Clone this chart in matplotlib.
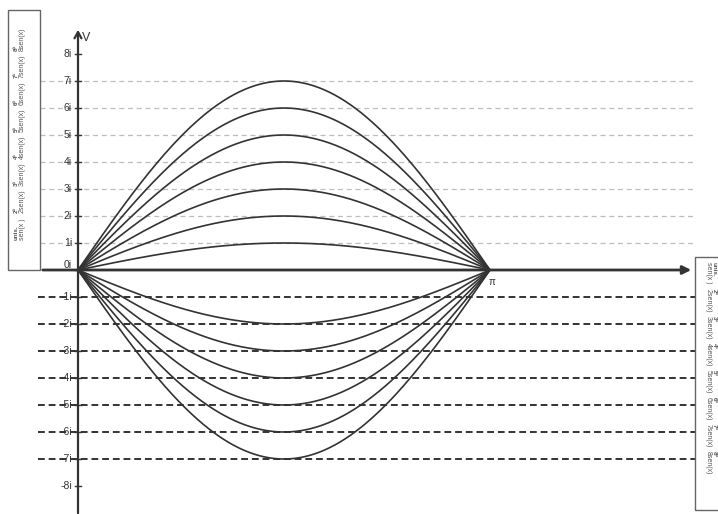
import numpy as np
import matplotlib
matplotlib.use("Agg")
import matplotlib.pyplot as plt
from matplotlib.patches import Rectangle

plt.rcParams['font.family'] = ['Liberation Sans', 'DejaVu Sans']

# data
upper_k = [1, 2, 3, 4, 5, 6, 7]
lower_k = [2, 3, 4, 5, 6, 7]
grid_up = [1, 2, 3, 4, 5, 6, 7]
grid_down = [-1, -2, -3, -4, -5, -6, -7]
tick_vals = [8, 7, 6, 5, 4, 3, 2, 1, 0, -1, -2, -3, -4, -5, -6, -7, -8]
tick_labels = ["%di" % v for v in tick_vals]
legend_top = ["unis.", "2ª", "3ª", "4ª", "5ª", "6ª", "7ª", "8ª"]
legend_bot = ["sen(x )", "2sen(x)", "3sen(x)", "4sen(x)", "5sen(x)", "6sen(x)", "7sen(x)", "8sen(x)"]

W, H = 718, 514
X0, XPI, Y0, DY = 78, 490, 270, 27.0

def dx(p):
    return (p - X0) / (XPI - X0) * np.pi

def dy(p):
    return (Y0 - p) / DY

fig = plt.figure(figsize=(W / 100, H / 100), dpi=100)
ax = fig.add_axes([0, 0, 1, 1])
ax.set_xlim(dx(0), dx(W))
ax.set_ylim(dy(H), dy(0))
ax.axis("off")

# gridlines
for g in grid_up:
    ax.plot([dx(40), dx(695)], [g, g], color="#bdbdbd", lw=0.9, ls=(0, (4, 3)), zorder=1)
for g in grid_down:
    ax.plot([dx(38), dx(695)], [g, g], color="#333333", lw=1.4, ls=(0, (3.5, 2)), zorder=1)

# curves
x = np.linspace(0, np.pi, 400)
for k in upper_k:
    ax.plot(x, k * np.sin(x), color="#333333", lw=1.2, zorder=3)
for k in lower_k:
    ax.plot(x, -k * np.sin(x), color="#333333", lw=1.2, zorder=3)

# axes with arrows
ax.annotate("", xy=(dx(694), 0), xytext=(dx(40), 0),
            arrowprops=dict(arrowstyle="-|>,head_length=0.5,head_width=0.25",
                            color="#333333", lw=2), zorder=4)
ax.annotate("", xy=(0, dy(27)), xytext=(0, dy(H + 2)),
            arrowprops=dict(arrowstyle="->,head_length=0.45,head_width=0.25",
                            color="#333333", lw=1.6), zorder=4)

# y ticks
for v, lab in zip(tick_vals, tick_labels):
    ax.plot([dx(75), dx(81)], [v, v], color="#333333", lw=1, zorder=4)
    yy = v + 0.18 if v == 0 else v
    ax.text(dx(72), yy, lab, ha="right", va="center", fontsize=7.5, color="#333333")

ax.text(dx(82), dy(38), "V", ha="left", va="center", fontsize=9, color="#333333")
ax.text(dx(489), dy(282), "π", ha="left", va="center", fontsize=7, color="#333333")

# left legend box
ax.add_patch(Rectangle((dx(8), dy(270)), dx(40) - dx(8), dy(10) - dy(270),
                       fill=False, ec="#666666", lw=1, zorder=5))
for i, (t, b) in enumerate(zip(legend_top, legend_bot)):
    yb = dy(240 - DY * i)
    ax.text(dx(16.5), yb, t, rotation=90, ha="center", va="bottom",
            fontsize=4.5, fontweight="bold", color="#555555")
    ax.text(dx(22), yb, b, rotation=90, ha="center", va="bottom",
            fontsize=5, color="#555555")

# right legend box
ax.add_patch(Rectangle((dx(695), dy(510)), dx(730) - dx(695), dy(257) - dy(510),
                       fill=False, ec="#666666", lw=1, zorder=5))
for i, (t, b) in enumerate(zip(legend_top, legend_bot)):
    yt = dy(262 + DY * i)
    ax.text(dx(714), yt, t, rotation=-90, ha="center", va="top",
            fontsize=4.5, fontweight="bold", color="#555555")
    ax.text(dx(708.5), yt, b, rotation=-90, ha="center", va="top",
            fontsize=5, color="#555555")

fig.savefig("out.png", dpi=100, facecolor="white")
